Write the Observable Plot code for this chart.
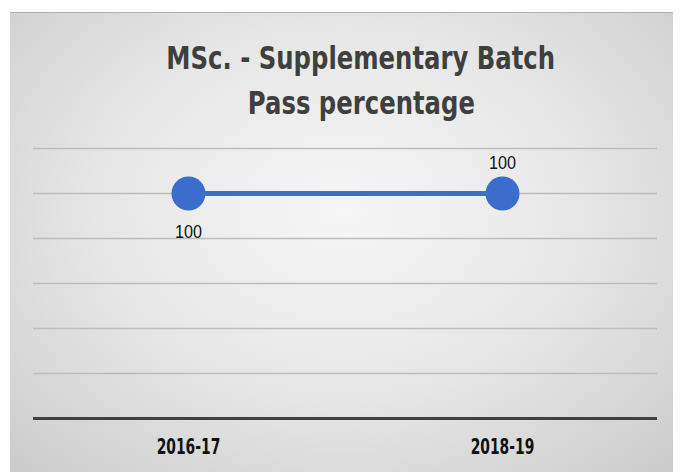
<!DOCTYPE html>
<html>
<head>
<meta charset="utf-8">
<script src="https://cdn.jsdelivr.net/npm/d3@7"></script>
<script src="https://cdn.jsdelivr.net/npm/@observablehq/plot@0.6"></script>
<style>
  html, body { margin: 0; padding: 0; background: #fff; }
  #wrap { position: relative; width: 680px; height: 472px; overflow: hidden; background: #fff; }
  #bg { position: absolute; left: 10px; top: 12px; width: 663px; height: 470px;
        background: radial-gradient(ellipse 75% 80% at 50% 42%, #f6f6f6 0%, #e6e6e6 50%, #c9c9c9 100%);
        border-top: 1px solid #b0b0b0; }
  #title { position: absolute; left: 0; width: 722px; top: 36px; text-align: center;
           font-family: "DejaVu Sans", sans-serif; font-weight: bold;
           font-size: 32px; line-height: 45px; color: #3f3f3f; }
  #title span { display: inline-block; transform: scaleX(0.76); transform-origin: center; }
  #chart { position: absolute; left: 0; top: 0; }
</style>
</head>
<body>
<div id="wrap">
  <div id="bg"></div>
  <div id="title"><span>MSc. - Supplementary Batch</span><br><span>Pass percentage</span></div>
  <div id="chart"></div>
</div>
<script>
const categories = ["2016-17", "2018-19"];
const values = [100, 100];
const gridTicks = [20, 40, 60, 80, 100, 120];

const data = categories.map((c, i) => ({year: c, value: values[i]}));

const plot = Plot.plot({
  width: 680,
  height: 472,
  marginLeft: 33,
  marginRight: 23,
  marginTop: 148,
  marginBottom: 54,
  style: {background: "transparent", overflow: "visible"},
  x: {type: "point", domain: categories, padding: 155 / 314, label: null},
  y: {domain: [0, 120], axis: null},
  marks: [
    Plot.ruleY(gridTicks, {stroke: "#bdbdbd", strokeWidth: 1.5}),
    Plot.ruleY([0], {stroke: "#404040", strokeWidth: 3}),
    Plot.axisX({tickSize: 0, tickPadding: 21, fontSize: 21, fontWeight: "bold",
                fontFamily: "DejaVu Sans", fill: "#111"}),
    Plot.line(data, {x: "year", y: "value", stroke: "#3d6fc9", strokeWidth: 5}),
    Plot.dot(data, {x: "year", y: "value", r: 17, fill: "#3a6dcc", stroke: null}),
    Plot.text(data.slice(0, 1), {x: "year", y: "value", text: d => String(d.value), dy: 38,
      fontSize: 19, fill: "#111", fontFamily: "Liberation Sans, sans-serif", className: "vlabel"}),
    Plot.text(data.slice(1), {x: "year", y: "value", text: d => String(d.value), dy: -31,
      fontSize: 19, fill: "#111", fontFamily: "Liberation Sans, sans-serif", className: "vlabel"})
  ]
});
plot.querySelectorAll("[aria-label='x-axis tick label'] text").forEach(t => {
  const tr = t.getAttribute("transform") || "";
  t.setAttribute("transform", tr + " scale(0.66,1)");
});
plot.querySelectorAll("g.vlabel text, .vlabel text").forEach(t => {
  const x = +t.getAttribute("x") || 0;
  const tr = t.getAttribute("transform") || "";
  t.setAttribute("transform", `${tr} translate(${x},0) scale(0.85,1) translate(${-x},0)`);
});
document.getElementById("chart").appendChild(plot);
</script>
</body>
</html>
